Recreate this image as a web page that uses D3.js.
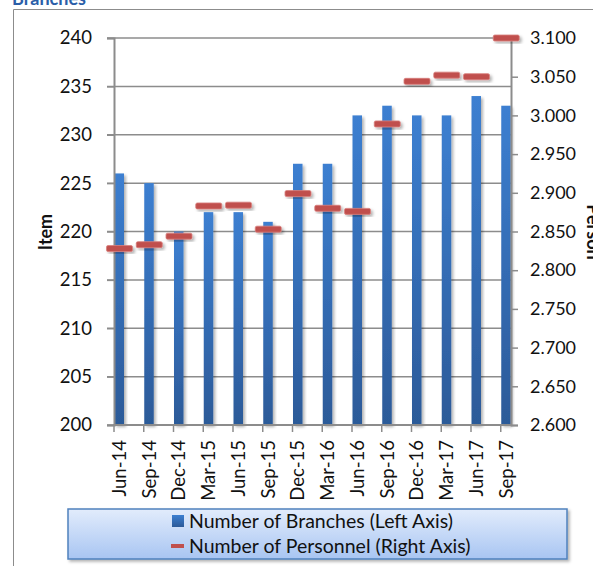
<!DOCTYPE html>
<html>
<head>
<meta charset="utf-8">
<script src="https://cdn.jsdelivr.net/npm/d3@7"></script>
<style>
  body { margin: 0; background: #fff; }
  svg { display: block; font-family: Lato, "Open Sans", sans-serif; }
</style>
</head>
<body>
<svg width="593" height="566"></svg>
<script>
var categories = ["Jun-14","Sep-14","Dec-14","Mar-15","Jun-15","Sep-15","Dec-15",
                  "Mar-16","Jun-16","Sep-16","Dec-16","Mar-17","Jun-17","Sep-17"];
var branches = [226,225,220,222,222,221,227,227,232,233,232,232,234,233];
var personnel = [2.828,2.833,2.844,2.883,2.884,2.853,2.899,2.880,2.876,2.989,3.044,3.052,3.050,3.100];
var leftTicks = [200,205,210,215,220,225,230,235,240];
var rightTicks = [2.600,2.650,2.700,2.750,2.800,2.850,2.900,2.950,3.000,3.050,3.100];

var plotLeft = 114, plotRight = 511, plotTop = 38, plotBottom = 425;
var step = 29.75;

var svg = d3.select('svg');
var defs = svg.append('defs');

var barGrad = defs.append('linearGradient').attr('id','barGrad')
                  .attr('x1',0).attr('y1',0).attr('x2',0).attr('y2',1);
barGrad.append('stop').attr('offset','0%').attr('stop-color','#3c7fd1');
barGrad.append('stop').attr('offset','100%').attr('stop-color','#2c5a98');

var legGrad = defs.append('linearGradient').attr('id','legGrad')
                  .attr('x1',0).attr('y1',0).attr('x2',0).attr('y2',1);
legGrad.append('stop').attr('offset','0%').attr('stop-color','#e2ecfc');
legGrad.append('stop').attr('offset','100%').attr('stop-color','#a8c5f2');

var shadow = defs.append('filter').attr('id','shadow')
                 .attr('x','-20%').attr('y','-20%').attr('width','160%').attr('height','160%');
shadow.append('feDropShadow').attr('dx',2).attr('dy',2).attr('stdDeviation',1.5)
      .attr('flood-color','#000').attr('flood-opacity',0.3);

// title (cut off at top) and outer border
svg.append('text').attr('x',12).attr('y',5)
   .attr('font-weight','bold').attr('font-size',18).attr('fill','#2a5ea8')
   .text('Branches');
svg.append('path').attr('d','M13.5,566 V9.5 H593')
   .attr('fill','none').attr('stroke','#8c8c8c').attr('stroke-width',1);

// scales
var x = d3.scaleBand().domain(categories).range([plotLeft, plotLeft + step * categories.length]);
var yL = d3.scaleLinear().domain([200,240]).range([plotBottom, plotTop]);
var yR = d3.scaleLinear().domain([2.6,3.1]).range([plotBottom, plotTop]);
var barW = 9.5;

// gridlines
svg.append('g').selectAll('line').data(leftTicks).enter().append('line')
   .attr('x1',plotLeft - 7).attr('x2',plotRight)
   .attr('y1',function(d){ return yL(d); }).attr('y2',function(d){ return yL(d); })
   .attr('stroke','#8c8c8c').attr('stroke-width',1.5);

// bars
svg.append('g').selectAll('rect').data(branches).enter().append('rect')
   .attr('x',function(d,i){ return x(categories[i]) + 0.5; })
   .attr('y',function(d){ return yL(d); })
   .attr('width',barW)
   .attr('height',function(d){ return plotBottom - yL(d); })
   .attr('fill','url(#barGrad)')
   .attr('filter','url(#shadow)');

// left axis
var leftAxis = d3.axisLeft(yL).tickValues(leftTicks).tickSize(7).tickPadding(15);
var gL = svg.append('g').attr('transform','translate(' + plotLeft + ',0)').call(leftAxis);
gL.select('.domain').attr('stroke','#8c8c8c').attr('stroke-width',2);
gL.selectAll('.tick line').attr('stroke','#8c8c8c').attr('stroke-width',1.5);
gL.selectAll('text').attr('font-size',18.5).attr('fill','#111').attr('font-family','Lato');

// right axis
var rightAxis = d3.axisRight(yR).tickValues(rightTicks).tickFormat(d3.format('.3f'))
                  .tickSize(7).tickPadding(12);
var gR = svg.append('g').attr('transform','translate(' + plotRight + ',0)').call(rightAxis);
gR.select('.domain').attr('stroke','#8c8c8c').attr('stroke-width',2);
gR.selectAll('.tick line').attr('stroke','#8c8c8c').attr('stroke-width',1.5);
gR.selectAll('text').attr('font-size',18).attr('fill','#111').attr('font-family','Lato');

// bottom axis
var gB = svg.append('g').attr('transform','translate(0,' + plotBottom + ')');
gB.append('line').attr('x1',plotLeft - 1).attr('x2',plotRight + 1)
  .attr('stroke','#8c8c8c').attr('stroke-width',2);
gB.selectAll('line.tk').data(categories).enter().append('line').attr('class','tk')
  .attr('x1',function(d){ return x(d); }).attr('x2',function(d){ return x(d); })
  .attr('y1',0).attr('y2',7)
  .attr('stroke','#8c8c8c').attr('stroke-width',1.5);
gB.selectAll('text').data(categories).enter().append('text')
  .attr('transform',function(d){ return 'translate(' + (x(d) + 5.5) + ',15) rotate(-90)'; })
  .attr('text-anchor','end').attr('dy','0.35em')
  .attr('font-size',18.5).attr('fill','#111')
  .text(function(d){ return d; });

// personnel markers
svg.append('g').selectAll('rect').data(personnel).enter().append('rect')
   .attr('x',function(d,i){ return x(categories[i]) + 5.5 - 13; })
   .attr('y',function(d){ return yR(d) - 3; })
   .attr('width',26).attr('height',6).attr('rx',1.5)
   .attr('fill','#c0504d').attr('stroke','#d9807d').attr('stroke-width',0.8)
   .attr('filter','url(#shadow)');

// axis titles
svg.append('text').attr('transform','translate(52,232) rotate(-90)')
   .attr('text-anchor','middle').attr('font-weight','bold').attr('font-size',18)
   .attr('fill','#111').text('Item');
svg.append('text').attr('transform','translate(587,232) rotate(90)')
   .attr('text-anchor','middle').attr('font-weight','bold').attr('font-size',18)
   .attr('fill','#111').text('Person');

// legend
var leg = svg.append('g');
leg.append('rect').attr('x',68).attr('y',509).attr('width',499).attr('height',50)
   .attr('fill','url(#legGrad)').attr('stroke','#4f81bd').attr('stroke-width',1.5)
   .attr('filter','url(#shadow)');
leg.append('rect').attr('x',172).attr('y',515).attr('width',12).attr('height',12)
   .attr('fill','url(#barGrad)');
leg.append('rect').attr('x',171).attr('y',544).attr('width',13).attr('height',4)
   .attr('fill','#c0504d');
leg.append('text').attr('x',189).attr('y',521).attr('dy','0.35em')
   .attr('font-size',19.5).attr('fill','#111').text('Number of Branches (Left Axis)');
leg.append('text').attr('x',189).attr('y',546).attr('dy','0.35em')
   .attr('font-size',19.5).attr('fill','#111').text('Number of Personnel (Right Axis)');
</script>
</body>
</html>
